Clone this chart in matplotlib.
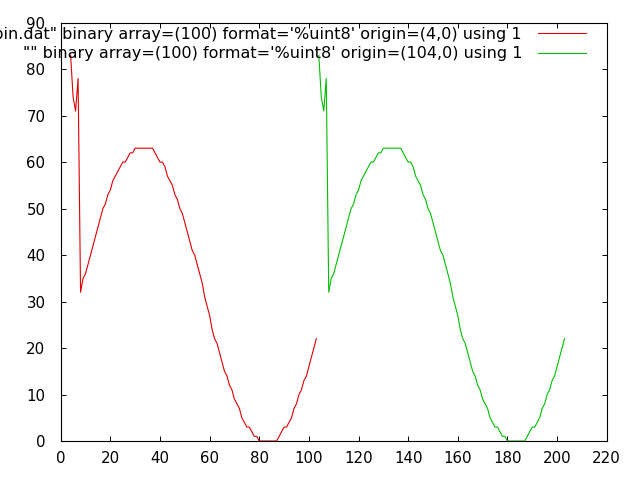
import matplotlib
matplotlib.use("Agg")
import matplotlib.pyplot as plt
import numpy as np

# uint8 samples (100 values, plotted twice with different origins)
values = [83, 74, 71, 78, 32, 35, 36, 38, 40, 42,
          44, 46, 48, 50, 51, 53, 54, 56, 57, 58,
          59, 60, 60, 61, 62, 62, 63, 63, 63, 63,
          63, 63, 63, 63, 62, 61, 60, 60, 59, 57,
          56, 55, 53, 52, 50, 49, 47, 45, 43, 41,
          40, 38, 36, 34, 31, 29, 27, 24, 22, 21,
          19, 17, 15, 14, 12, 11, 9, 8, 7, 5,
          4, 3, 3, 2, 1, 1, 0, 0, 0, 0,
          0, 0, 0, 0, 1, 2, 3, 3, 4, 5,
          7, 8, 10, 11, 13, 14, 16, 18, 20, 22]
origin1 = 4
origin2 = 104
label1 = '"pin.dat" binary array=(100) format=\'%uint8\' origin=(4,0) using 1'
label2 = '"" binary array=(100) format=\'%uint8\' origin=(104,0) using 1'
xticks = list(range(0, 221, 20))
yticks = list(range(0, 91, 10))

plt.rcParams['font.family'] = ['DejaVu Sans']
fs = 10.8
lfs = 11.5

fig = plt.figure(figsize=(6.4, 4.8), dpi=100)
ax = fig.add_axes([60.7/640, 1 - 441/480, (606.7-60.7)/640, (441-22.7)/480])

x1 = np.arange(len(values)) + origin1
x2 = np.arange(len(values)) + origin2
l1, = ax.plot(x1, values, color='#e00000', lw=0.8, label=label1)
l2, = ax.plot(x2, values, color='#00c000', lw=0.8, label=label2)

ax.set_xlim(0, 220)
ax.set_ylim(0, 90)
ax.set_xticks(xticks)
ax.set_yticks(yticks)
ax.tick_params(direction='in', length=3.3, width=0.7, top=True, right=True,
               labelsize=fs, colors='black')
ax.tick_params(axis='y', pad=11)
ax.tick_params(axis='x', pad=7)
for s in ax.spines.values():
    s.set_linewidth(0.8)
    s.set_color('black')

leg = ax.legend(handles=[l1, l2], loc='upper right', markerfirst=False, frameon=False,
                fontsize=lfs, handlelength=3.0, handletextpad=1.0, labelspacing=0.3,
                bbox_to_anchor=(586/640, 1 - 26.5/480), bbox_transform=fig.transFigure,
                borderaxespad=0, borderpad=0)
for t in leg.get_texts():
    t.set_ha('right')

fig.savefig('out.png', dpi=100)
